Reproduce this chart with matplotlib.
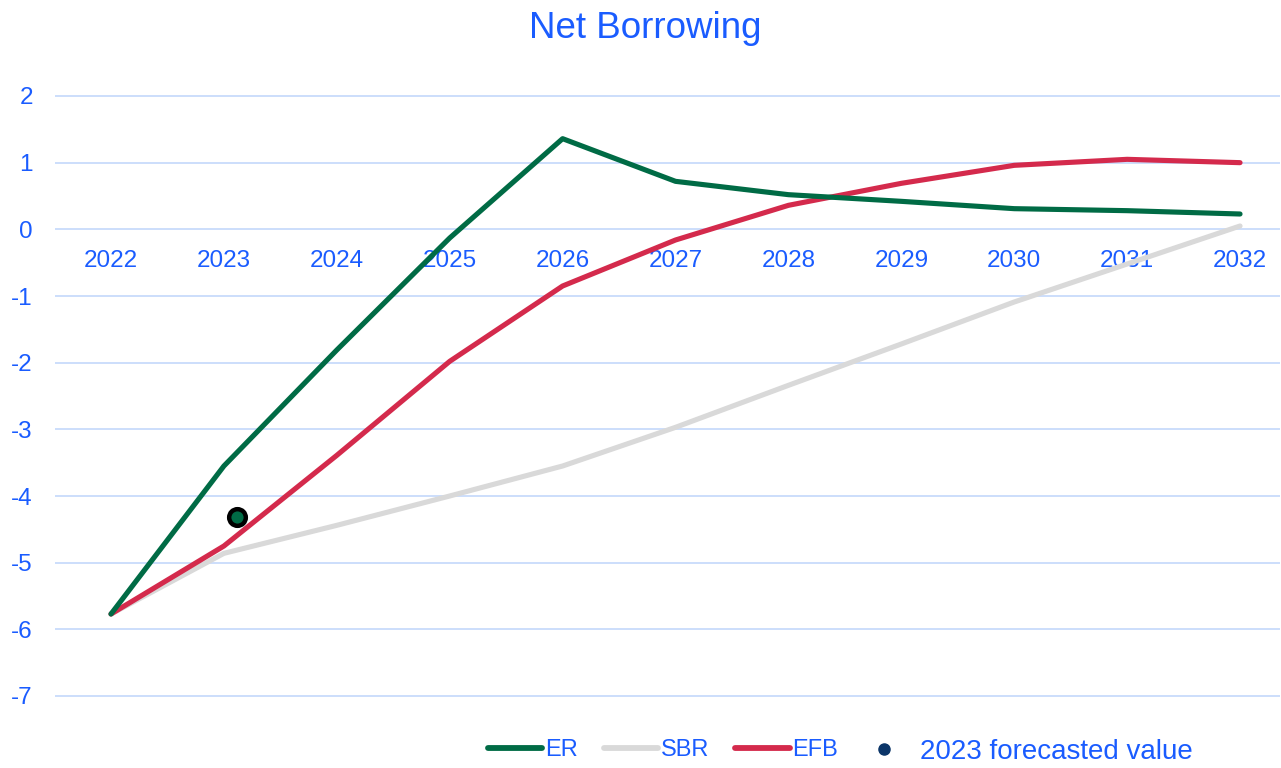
import matplotlib
matplotlib.use("Agg")
import matplotlib.pyplot as plt
from matplotlib.lines import Line2D

years = ["2022", "2023", "2024", "2025", "2026", "2027", "2028", "2029", "2030", "2031", "2032"]
er = [-5.77, -3.55, -1.81, -0.13, 1.36, 0.72, 0.52, 0.42, 0.31, 0.28, 0.23]
sbr = [-5.77, -4.86, -4.44, -4.00, -3.55, -2.97, -2.34, -1.72, -1.09, -0.52, 0.05]
efb = [-5.77, -4.75, -3.39, -1.98, -0.85, -0.16, 0.36, 0.69, 0.96, 1.05, 1.00]
forecast_pos = [1.12]
forecast_val = [-4.32]
y_ticks = [2, 1, 0, -1, -2, -3, -4, -5, -6, -7]

BLUE = "#1a5cff"
GREEN = "#006b45"
GREY = "#d9d9d9"
RED = "#d42a4c"
GRID = "#c4d8fb"
NAVY = "#0b3568"

plt.rcParams["font.family"] = ["Liberation Sans", "DejaVu Sans"]

fig = plt.figure(figsize=(12.81, 7.68), dpi=100)
ax = fig.add_axes([55 / 1281, 1 - 716 / 768, 1225 / 1281, 640 / 768])

x = list(range(len(years)))
ax.plot(x, sbr, color=GREY, lw=3.7, solid_capstyle="round", solid_joinstyle="round", zorder=3)
ax.plot(x, efb, color=RED, lw=3.7, solid_capstyle="round", solid_joinstyle="round", zorder=4)
ax.plot(x, er, color=GREEN, lw=3.7, solid_capstyle="round", solid_joinstyle="round", zorder=5)
ax.plot(forecast_pos, forecast_val, "o", color=GREEN, markersize=12,
        markeredgecolor="black", markeredgewidth=3.2, zorder=6)

ax.set_xlim(-0.496, 10.354)
ax.set_ylim(-7.3, 2.3)
ax.set_yticks(y_ticks)
ax.set_yticklabels([str(v) for v in y_ticks])
ax.set_xticks(x)
ax.set_xticklabels(years)

ax.grid(axis="y", color=GRID, lw=1.2, zorder=0)
ax.grid(axis="x", visible=False)
for side in ["left", "right", "top"]:
    ax.spines[side].set_visible(False)
ax.spines["bottom"].set_position(("data", 0))
ax.spines["bottom"].set_visible(False)
ax.tick_params(axis="x", length=0, pad=15, labelsize=17.5, labelcolor=BLUE)
ax.tick_params(axis="y", length=0, pad=16, labelsize=17.5, labelcolor=BLUE)

fig.suptitle("Net Borrowing", x=645 / 1281, y=1 - 11 / 768, va="top",
             fontsize=26.5, color=BLUE)

series_handles = [
    Line2D([], [], color=GREEN, lw=4.2, solid_capstyle="round"),
    Line2D([], [], color=GREY, lw=4.2, solid_capstyle="round"),
    Line2D([], [], color=RED, lw=4.2, solid_capstyle="round"),
]
leg1 = fig.legend(series_handles, ["ER", "SBR", "EFB"], loc="center left",
                  bbox_to_anchor=(488 / 1281, 1 - 750 / 768), ncol=3,
                  frameon=False, fontsize=17, labelcolor=BLUE,
                  handlelength=2.3, handletextpad=0.12, columnspacing=1.1,
                  borderpad=0, borderaxespad=0)

dot_handle = [Line2D([], [], marker="o", ls="none", color=NAVY, markersize=8)]
leg2 = fig.legend(dot_handle, ["2023 forecasted value"], loc="center left",
                  bbox_to_anchor=(870 / 1281, 1 - 752 / 768),
                  frameon=False, fontsize=20, labelcolor=BLUE,
                  handlelength=1.0, handletextpad=0.8,
                  borderpad=0, borderaxespad=0)

fig.savefig("out.png", dpi=100)
